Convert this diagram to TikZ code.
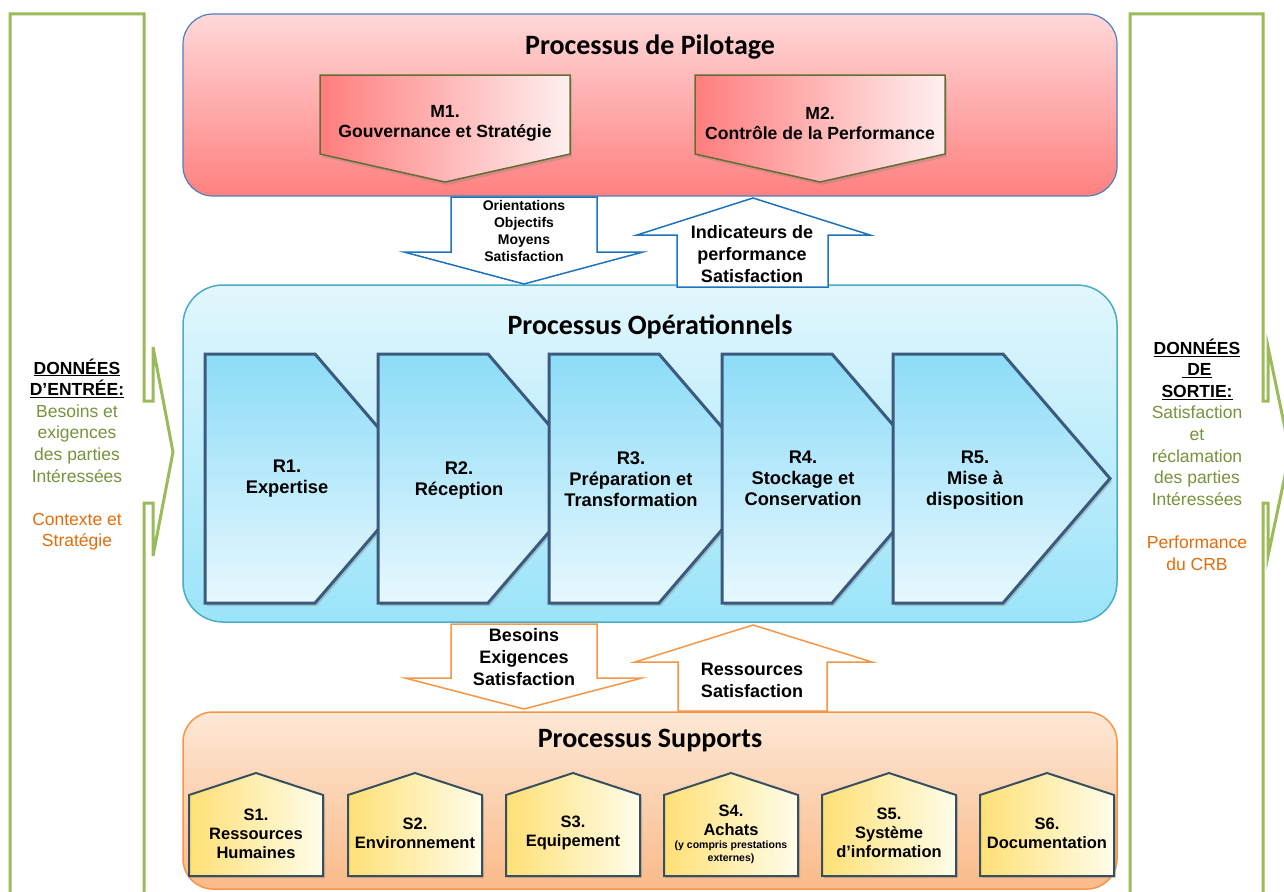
\documentclass[tikz,border=0pt]{standalone}
\usepackage{fontspec}
\setmainfont{Liberation Sans}
\newfontfamily\calib{Carlito}
\usetikzlibrary{shadows}
\definecolor{pilTop}{RGB}{255,216,216}
\definecolor{pilBot}{RGB}{255,128,128}
\definecolor{pilBorder}{RGB}{79,129,189}
\definecolor{opTop}{RGB}{226,247,253}
\definecolor{opBot}{RGB}{155,228,250}
\definecolor{opBorder}{RGB}{75,172,198}
\definecolor{supTop}{RGB}{253,232,214}
\definecolor{supBot}{RGB}{250,186,136}
\definecolor{supBorder}{RGB}{247,150,70}
\definecolor{rTop}{RGB}{140,220,248}
\definecolor{rBot}{RGB}{232,248,254}
\definecolor{rBorder}{RGB}{60,90,125}
\definecolor{mLeft}{RGB}{255,125,125}
\definecolor{mRight}{RGB}{255,240,240}
\definecolor{mBorder}{RGB}{100,110,50}
\definecolor{sLeft}{RGB}{255,224,118}
\definecolor{sRight}{RGB}{255,253,234}
\definecolor{sBorder}{RGB}{55,80,95}
\definecolor{bigGreen}{RGB}{155,187,89}
\definecolor{txtGreen}{RGB}{119,147,60}
\definecolor{txtOrange}{RGB}{228,108,10}
\definecolor{arrBlue}{RGB}{30,115,190}
\definecolor{arrOrange}{RGB}{247,150,70}
\begin{document}
\begin{tikzpicture}[x=1pt,y=-1pt,
  bigarrow/.style={draw=bigGreen,line width=3pt,fill=white,line join=miter},
  pilbox/.style={draw=pilBorder,line width=1.2pt,rounded corners=30pt,top color=pilTop,bottom color=pilBot},
  opbox/.style={draw=opBorder,line width=1.5pt,rounded corners=40pt,top color=opTop,bottom color=opBot},
  supbox/.style={draw=supBorder,line width=1.5pt,rounded corners=30pt,top color=supTop,bottom color=supBot},
  rshape/.style={draw=rBorder,line width=3pt,line join=miter,top color=rTop,bottom color=rBot,
     drop shadow={shadow xshift=2pt,shadow yshift=-3pt,opacity=0.35}},
  mshape/.style={draw=mBorder,line width=1.5pt,line join=miter,left color=mLeft,right color=mRight,
     drop shadow={shadow xshift=2pt,shadow yshift=-3pt,opacity=0.3}},
  sshape/.style={draw=sBorder,line width=2pt,line join=miter,left color=sLeft,right color=sRight,
     drop shadow={shadow xshift=2pt,shadow yshift=-2pt,opacity=0.3}},
  bluearrow/.style={draw=arrBlue,line width=1.5pt,fill=white,line join=miter},
  orarrow/.style={draw=arrOrange,line width=1.5pt,fill=white,line join=miter},
  title/.style={font=\calib\bfseries\fontsize{28}{32}\selectfont},
  btxt/.style={font=\bfseries\fontsize{18}{21.6}\selectfont,align=center,inner sep=0pt},
  rtxt/.style={font=\bfseries\fontsize{18.3}{21}\selectfont,align=center,inner sep=0pt},
  mtxt/.style={font=\bfseries\fontsize{17.6}{20}\selectfont,align=center,inner sep=0pt},
  stxt/.style={font=\bfseries\fontsize{16.5}{19}\selectfont,align=center,inner sep=0pt},
  smtxt/.style={font=\bfseries\fontsize{14}{17.3}\selectfont,align=center,inner sep=0pt},
  sidetxt/.style={font=\fontsize{17.5}{21.6}\selectfont,align=center,inner sep=0pt}
]
\useasboundingbox (0,0) rectangle (1284,891);
\fill[white] (0,0) rectangle (1284,891);

% big side arrows
\path[bigarrow] (10,905) -- (10,14) -- (144,14) -- (144,401) -- (153,401) -- (153,347)
  -- (173,452) -- (153,556) -- (153,503) -- (144,503) -- (144,905);
\path[bigarrow] (1130,905) -- (1130,14) -- (1263,14) -- (1263,401) -- (1268,401) -- (1268,347)
  -- (1290,452) -- (1268,556) -- (1268,503) -- (1263,503) -- (1263,905);

\node[sidetxt] (entree) at (77,454.5) {\textbf{\underline{DONNÉES}}\\\textbf{\underline{D’ENTRÉE:}}\\
  \color{txtGreen}Besoins et\\\color{txtGreen}exigences\\\color{txtGreen}des parties\\\color{txtGreen}Intéressées\\[21.6pt]
  \color{txtOrange}Contexte et\\\color{txtOrange}Stratégie};
\node[sidetxt] (sortie) at (1197,454.5) {\textbf{\underline{DONNÉES}}\\\textbf{\underline{\ DE}}\\\textbf{\underline{SORTIE:}}\\
  \color{txtGreen}Satisfaction\\\color{txtGreen}et\\\color{txtGreen}réclamation\\\color{txtGreen}des parties\\\color{txtGreen}Intéressées\\[21.6pt]
  \color{txtOrange}Performance\\\color{txtOrange}du CRB};

% main boxes
\path[pilbox] (183,14) rectangle (1117,196);
\path[opbox] (183,285) rectangle (1117,622);
\path[supbox] (183,712) rectangle (1117,889);

\node[title] (tpil) at (650,47) {Processus de Pilotage};
\node[title] (top) at (650,327) {Processus Opérationnels};
\node[title] (tsup) at (650,741) {Processus Supports};

% M chevrons
\path[mshape] (320,75) -- (570,75) -- (570,154) -- (445,182) -- (320,154) -- cycle;
\path[mshape] (695,75) -- (945,75) -- (945,154) -- (820,182) -- (695,154) -- cycle;
\node[mtxt] (m1) at (445,123) {M1.\\Gouvernance et Stratégie};
\node[mtxt] (m2) at (820,123) {M2.\\Contrôle de la Performance};

% R chevrons
\foreach \L in {205,378,549,722,893} {
  \path[rshape] (\L,354) -- ++(110,0) -- ++(107,124.5) -- ++(-107,124.5) -- ++(-110,0) -- cycle;
}
\node[rtxt] (r1) at (287,479) {R1.\\Expertise};
\node[rtxt] (r2) at (459,480.5) {R2.\\Réception};
\node[rtxt] (r3) at (631,479.5) {R3.\\Préparation et\\Transformation};
\node[rtxt] (r4) at (803,478.5) {R4.\\Stockage et\\Conservation};
\node[rtxt] (r5) at (975,480.5) {R5.\\Mise à\\disposition};

% S houses
\foreach \L in {189,348,506,664,822,980} {
  \path[sshape] (\L,795) -- ++(67,-22) -- ++(67,22) -- ++(0,81) -- ++(-134,0) -- cycle;
}
\node[stxt] (s1) at (256,834) {S1.\\Ressources\\Humaines};
\node[stxt] (s2) at (415,833) {S2.\\Environnement};
\node[stxt] (s3) at (573,833) {S3.\\Equipement};
\node[stxt] (s4) at (731,820) {S4.\\Achats};
\node[font=\bfseries\fontsize{10.5}{13}\selectfont,align=center,inner sep=0pt] (s4b) at (731,852) {(y compris prestations\\externes)};
\node[stxt] (s5) at (889,833) {S5.\\Système\\d’information};
\node[stxt] (s6) at (1047,833) {S6.\\Documentation};

% blue arrows
\path[bluearrow] (451,197) -- (597,197) -- (597,252) -- (643,252) -- (524,284) -- (404,252) -- (451,252) -- cycle;
\path[bluearrow] (677,287) -- (677,235) -- (637,235) -- (753,198) -- (870,235) -- (828,235) -- (828,287) -- cycle;
\node[smtxt] (orient) at (524,231) {Orientations\\Objectifs\\Moyens\\Satisfaction};
\node[btxt] (indic) at (752,254) {Indicateurs de\\performance\\Satisfaction};

% orange arrows
\path[orarrow] (451,624) -- (597,624) -- (597,678) -- (642,678) -- (524,709) -- (405,678) -- (451,678) -- cycle;
\path[orarrow] (678,711) -- (678,662) -- (635,662) -- (753,625) -- (872,662) -- (827,662) -- (827,711) -- cycle;
\node[btxt] (besoins) at (524,657) {Besoins\\Exigences\\Satisfaction};
\node[btxt] (ress) at (752,680.5) {Ressources\\Satisfaction};
\end{tikzpicture}
\end{document}
